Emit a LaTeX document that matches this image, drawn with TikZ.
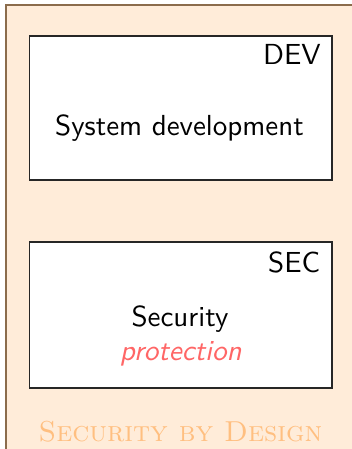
\documentclass[tikz,border=0pt]{standalone}
\usetikzlibrary{positioning}

\begin{document}
\begin{tikzpicture}[font=\sffamily\fontsize{10.25}{12}\selectfont,semithick]
  \tikzstyle{layer}=[draw=black!85,thin,fill=white,minimum width=3.758cm,inner sep=0pt]
  \tikzstyle{tag}=[inner sep=0pt,text=black]
  \tikzstyle{body}=[inner sep=0pt,align=center]

  \useasboundingbox (0,0) rectangle (4.373,-5.578);
  % background panel
  \fill[orange!15] (0.075,-0.062) rectangle (4.373,-5.578);
  \draw[orange!35!black!70,thin] (0.075,-5.578) |- (4.373,-0.062);

  \node[layer,minimum height=1.789cm] (dev) at (2.245,-1.342) {};
  \node[layer,minimum height=1.814cm] (sec) at (2.245,-3.913) {};

  \node[tag,anchor=base east] (devtag) at (3.996,-0.807) {DEV};
  \node[tag,anchor=base east] (sectag) at (3.988,-3.383) {SEC};

  \node[body,anchor=base] (devtext) at (2.230,-1.689) {System development};
  \node[body,anchor=base] (sectext) at (2.236,-4.060) {Security};
  \node[body,anchor=base,text=red!60,font=\sffamily\fontsize{10.25}{12}\selectfont\itshape] (secprot) at (2.245,-4.475) {protection};

  \node[anchor=base,text=orange!50,font=\rmfamily\fontsize{10.2}{12}\selectfont\scshape] (title) at (2.242,-5.487) {Security by Design};
\end{tikzpicture}
\end{document}
